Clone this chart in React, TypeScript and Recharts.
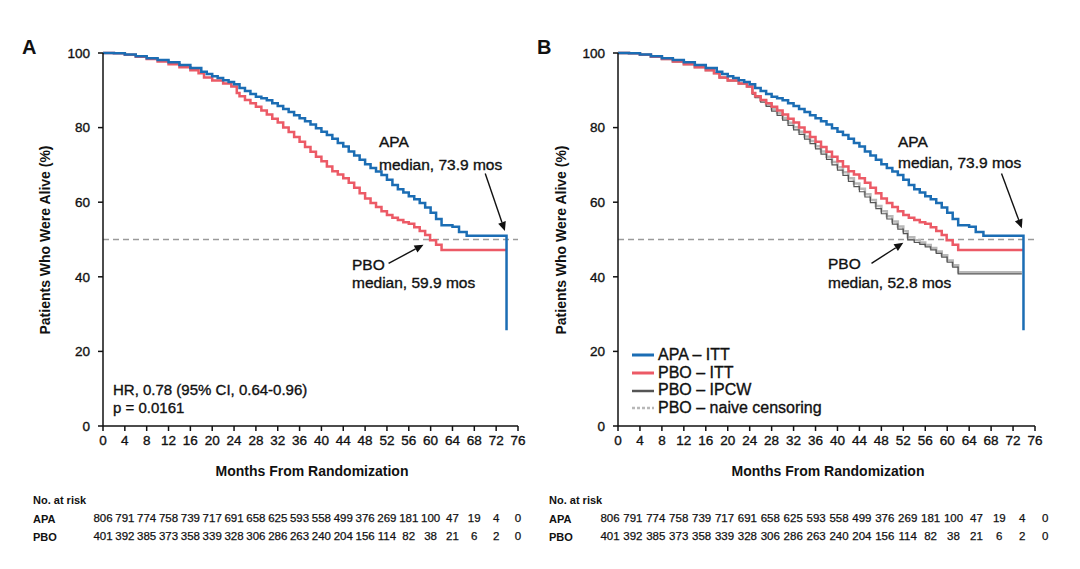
import { ComposedChart, Line, XAxis, YAxis, ReferenceLine } from 'recharts';

// Kaplan-Meier curves, [month, % alive]
const apaItt: [number, number][] = [
  [0, 100], [2, 99.9], [4, 99.6], [6, 99.1], [8, 98.6], [10, 98.1], [12, 97.5], [14, 96.8], [16, 96],
  [18, 95], [19, 94.4], [20, 93.8], [21, 93.3], [22, 92.7], [23, 92.2], [24, 91.6], [25, 90.6], [26, 89.8],
  [27, 89], [28, 88.3], [29, 87.9], [30, 87.3], [31, 86.5], [32, 85.8], [33, 85], [34, 84.2], [35, 83.3],
  [36, 82.5], [37, 81.7], [38, 80.8], [39, 79.8], [40, 78.9], [41, 78], [42, 77], [43, 75.9], [44, 74.9],
  [45, 73.6], [46, 72.5], [47, 71.4], [48, 70.2], [49, 69.2], [50, 68.2], [51, 67.3], [52, 66], [53, 64.6],
  [54, 63.5], [55, 62.6], [56, 61.6], [57, 60.8], [58, 59.8], [59, 58.6], [60, 57.2], [61, 55.5], [62, 53.8],
  [64, 53.4], [65.2, 52], [66.6, 51], [73.9, 25.7],
];

const pboItt: [number, number][] = [
  [0, 100], [2, 99.9], [4, 99.5], [6, 99], [8, 98.4], [10, 97.7], [12, 97], [14, 96.2], [16, 95.4],
  [17.5, 94.6], [18.5, 93.4], [20, 92.6], [22, 91.8], [23.5, 91], [24.5, 89.3], [25, 88.4], [26, 87.4],
  [27, 86.5], [28, 85.6], [29, 84.6], [30, 83.5], [31, 82.4], [32, 81.4], [33, 80], [34, 78.8], [35, 77.5],
  [36, 76.2], [37, 74.8], [38, 73.5], [39, 72.2], [40, 71], [41, 69.6], [42, 68.3], [43, 67.4], [44, 66.4],
  [45, 65.2], [46, 63.9], [47, 62.4], [48, 61], [49, 59.8], [50, 58.7], [51, 57.6], [52, 56.6], [53, 55.8],
  [54, 55.2], [55, 54.6], [56, 54.2], [57, 53.3], [58, 52.3], [59, 51.2], [59.9, 49.8], [61, 48.6],
  [62, 47.2], [73.9, 47.2],
];

const pboIpcw: [number, number][] = [
  [0, 100], [2, 99.9], [4, 99.5], [6, 99], [8, 98.4], [10, 97.7], [12, 97], [14, 96.2], [16, 95.4],
  [17.5, 94.6], [18.5, 93.4], [20, 92.6], [22, 91.8], [23.5, 91], [24.5, 89], [25, 88], [26, 86.8],
  [27, 85.7], [28, 84.4], [29, 83.3], [30, 82], [31, 80.6], [32, 79.4], [33, 78.2], [34, 76.9], [35, 75.7],
  [36, 74.3], [37, 72.9], [38, 71.5], [39, 70], [40, 68.6], [41, 67.2], [42, 65.6], [43, 64.2], [44, 62.8],
  [45, 61.4], [46, 59.9], [47, 58.3], [48, 56.9], [49, 55.5], [50, 54.1], [51, 52.8], [52, 51.6],
  [52.8, 49.9], [54, 49.2], [55, 48.7], [56, 48], [57, 47.2], [58, 46.3], [59, 45.3], [60, 43.9],
  [61, 42.6], [62, 40.8], [73.6, 40.8],
];

const pboNaive: [number, number][] = [
  [0, 100], [2, 99.9], [4, 99.5], [6, 99], [8, 98.4], [10, 97.7], [12, 97], [14, 96.2], [16, 95.4],
  [17.5, 94.6], [18.5, 93.4], [20, 92.6], [22, 91.8], [23.5, 91], [24.5, 89.2], [25, 88.3], [26, 87.2],
  [27, 86.2], [28, 85], [29, 83.9], [30, 82.6], [31, 81.3], [32, 80.1], [33, 78.9], [34, 77.6], [35, 76.4],
  [36, 75], [37, 73.6], [38, 72.2], [39, 70.8], [40, 69.4], [41, 68], [42, 66.4], [43, 65], [44, 63.6],
  [45, 62.1], [46, 60.6], [47, 59], [48, 57.6], [49, 56.2], [50, 54.8], [51, 53.5], [52, 52.2],
  [52.8, 50.6], [54, 49.8], [55, 49.2], [56, 48.5], [57, 47.7], [58, 46.8], [59, 45.8], [60, 44.4],
  [61, 43.1], [62, 41.2], [73.6, 41.2],
];

const monthTicks = [0, 4, 8, 12, 16, 20, 24, 28, 32, 36, 40, 44, 48, 52, 56, 60, 64, 68, 72, 76];
const pctTicks = [0, 20, 40, 60, 80, 100];

const apaAtRisk = [806, 791, 774, 758, 739, 717, 691, 658, 625, 593, 558, 499, 376, 269, 181, 100, 47, 19, 4, 0];
const pboAtRisk = [401, 392, 385, 373, 358, 339, 328, 306, 286, 263, 240, 204, 156, 114, 82, 38, 21, 6, 2, 0];

const BLUE = '#1b6db4';
const RED = '#ec5a66';
const DARK = '#555555';
const LIGHT = '#b8b8b8';
const FONT = '"Liberation Sans", Arial, Helvetica, sans-serif';
const MED = '0.35px #111'; // fake a medium weight

const toPts = (arr: [number, number][]) => arr.map(([m, s]) => ({ m, s }));

const Arrow = (p: any) => {
  const { x1, y1, x2, y2 } = p;
  const a = Math.atan2(y2 - y1, x2 - x1);
  const L = 9, W = 4;
  const bx = x2 - L * Math.cos(a), by = y2 - L * Math.sin(a);
  const px = -Math.sin(a) * W, py = Math.cos(a) * W;
  return (
    <g>
      <line x1={x1} y1={y1} x2={bx} y2={by} stroke="#111" strokeWidth={1.4} />
      <polygon points={`${x2},${y2} ${bx + px},${by + py} ${bx - px},${by - py}`} fill="#111" />
    </g>
  );
};

const XTick = ({ x, y, payload }: any) => (
  <text x={x} y={y + 11} textAnchor="middle" fontSize={13.5} fontFamily={FONT}
    fill="#111" stroke="#111" strokeWidth={0.35}>{payload.value}</text>
);

const YTick = ({ x, y, payload }: any) => (
  <text x={x} y={y + 4.8} textAnchor="end" fontSize={13.5} fontFamily={FONT}
    fill="#111" stroke="#111" strokeWidth={0.35}>{payload.value}</text>
);

type Series = { data: [number, number][]; color: string; width: number; dash?: string };

const KM = ({ left, marginLeft, marginRight, series, arrows }: {
  left: number; marginLeft: number; marginRight: number; series: Series[];
  arrows: [number, number, number, number][];
}) => (
  <div style={{ position: 'absolute', left, top: 0 }}>
    <ComposedChart width={540} height={470} margin={{ top: 53, right: marginRight, bottom: 14, left: marginLeft }}>
      <XAxis
        type="number" dataKey="m" domain={[0, 76]} ticks={monthTicks} interval={0} height={30}
        axisLine={{ stroke: '#111', strokeWidth: 1.5 }} tickLine={{ stroke: '#111', strokeWidth: 1.5 }}
        tickSize={5} tickMargin={3} tick={<XTick />}
        allowDataOverflow
      />
      <YAxis
        type="number" dataKey="s" domain={[0, 100]} ticks={pctTicks} width={60}
        axisLine={{ stroke: '#111', strokeWidth: 1.5 }} tickLine={{ stroke: '#111', strokeWidth: 1.5 }}
        tickSize={5} tickMargin={8} tick={<YTick />}
      />
      <ReferenceLine y={50} stroke="#9a9a9a" strokeWidth={1.5} strokeDasharray="6 4" />
      {series.map((s, i) => (
        <Line
          key={i} data={toPts(s.data)} dataKey="s" type="stepAfter" stroke={s.color}
          strokeWidth={s.width} strokeDasharray={s.dash} dot={false} activeDot={false}
          isAnimationActive={false}
        />
      ))}
      {arrows.map(([xa, ya, xb, yb], i) => (
        <ReferenceLine key={'a' + i} segment={[{ x: xa, y: ya }, { x: xb, y: yb }]} shape={Arrow} />
      ))}
    </ComposedChart>
  </div>
);

const T = ({ x, y, size = 15.5, bold = false, children }: any) => (
  <div style={{
    position: 'absolute', left: x, top: y - size * 0.575, fontSize: size, lineHeight: 1.15,
    fontWeight: bold ? 700 : 400, whiteSpace: 'nowrap', color: '#111', fontFamily: FONT,
    WebkitTextStroke: bold ? undefined : MED,
  }}>{children}</div>
);

const VT = ({ x, y, children }: any) => (
  <div style={{
    position: 'absolute', left: x, top: y, transform: 'translate(-50%, -50%) rotate(-90deg)',
    fontSize: 14, fontWeight: 700, whiteSpace: 'nowrap', color: '#111', fontFamily: FONT,
  }}>{children}</div>
);

const HT = ({ x, y, children }: any) => (
  <div style={{
    position: 'absolute', left: x, top: y, transform: 'translate(-50%, -50%)',
    fontSize: 14, fontWeight: 700, whiteSpace: 'nowrap', color: '#111', fontFamily: FONT,
  }}>{children}</div>
);

const RiskTable = ({ labelX, firstX, step }: { labelX: number; firstX: number; step: number }) => (
  <>
    <T x={labelX} y={500} size={11} bold>No. at risk</T>
    <T x={labelX} y={519} size={11} bold>APA</T>
    <T x={labelX} y={537} size={11} bold>PBO</T>
    {[apaAtRisk, pboAtRisk].map((row, r) =>
      row.map((v, i) => (
        <div key={r + '-' + i} style={{
          position: 'absolute', left: firstX + i * step, top: 519 + r * 18 - 6.8,
          transform: 'translateX(-50%)', fontSize: 11.5, lineHeight: 1.15, whiteSpace: 'nowrap',
          color: '#111', fontFamily: FONT, WebkitTextStroke: '0.25px #111',
        }}>{v}</div>
      ))
    )}
  </>
);

const legendItems = [
  { label: 'APA – ITT', color: BLUE, width: 3, dash: undefined },
  { label: 'PBO – ITT', color: RED, width: 3, dash: undefined },
  { label: 'PBO – IPCW', color: DARK, width: 2.5, dash: undefined },
  { label: 'PBO – naive censoring', color: LIGHT, width: 2.5, dash: '3 2' },
];

export default function App() {
  return (
    <div style={{ position: 'absolute', left: 0, top: 0, width: 1080, height: 569, background: '#fff', fontFamily: FONT }}>
      <KM
        left={0} marginLeft={43} marginRight={22}
        series={[
          { data: pboItt, color: RED, width: 2.5 },
          { data: apaItt, color: BLUE, width: 2.5 },
        ]}
        arrows={[[70.0, 67.7, 73.6, 52.3], [52.3, 43.6, 58.7, 48.6]]}
      />
      <KM
        left={540} marginLeft={18} marginRight={45}
        series={[
          { data: pboNaive, color: LIGHT, width: 2.5 },
          { data: pboIpcw, color: DARK, width: 1.2 },
          { data: pboItt, color: RED, width: 2.5 },
          { data: apaItt, color: BLUE, width: 2.5 },
        ]}
        arrows={[[69.9, 67.7, 73.6, 53.0], [46.2, 43.6, 52.0, 49.1]]}
      />

      <T x={22} y={47} size={20} bold>A</T>
      <T x={537} y={47} size={20} bold>B</T>

      <VT x={45} y={240}>Patients Who Were Alive (%)</VT>
      <VT x={561} y={240}>Patients Who Were Alive (%)</VT>
      <HT x={312} y={471}>Months From Randomization</HT>
      <HT x={828} y={471}>Months From Randomization</HT>

      <T x={379} y={142}>APA</T>
      <T x={379} y={165}>median, 73.9 mos</T>
      <T x={352} y={265}>PBO</T>
      <T x={352} y={283}>median, 59.9 mos</T>
      <T x={113} y={390} size={15}>HR, 0.78 (95% CI, 0.64-0.96)</T>
      <T x={113} y={408} size={15}>p = 0.0161</T>

      <T x={898} y={142}>APA</T>
      <T x={898} y={163}>median, 73.9 mos</T>
      <T x={828} y={264}>PBO</T>
      <T x={828} y={283}>median, 52.8 mos</T>

      {legendItems.map((it, i) => (
        <div key={i}>
          <svg style={{ position: 'absolute', left: 632, top: 355 + i * 17.8 - 3 }} width={22} height={6}>
            <line x1={0} y1={3} x2={22} y2={3} stroke={it.color} strokeWidth={it.width} strokeDasharray={it.dash} />
          </svg>
          <T x={658} y={355 + i * 17.8} size={16}>{it.label}</T>
        </div>
      ))}

      <RiskTable labelX={33} firstX={103} step={21.84} />
      <RiskTable labelX={549} firstX={610} step={22.9} />
    </div>
  );
}
